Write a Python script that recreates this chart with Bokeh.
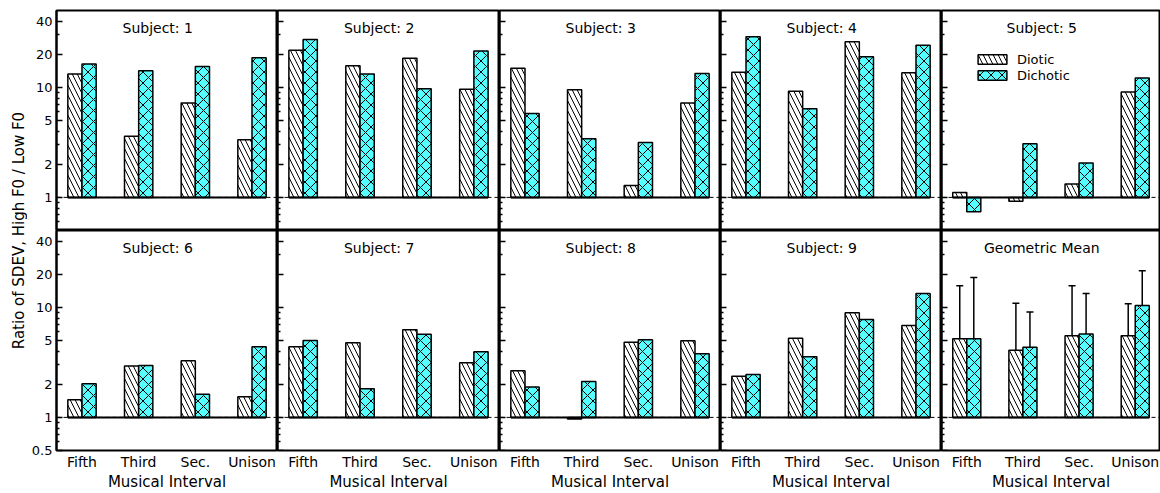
import numpy as np
from bokeh.plotting import figure
from bokeh.layouts import row, column
from bokeh.models import (Range1d, FixedTicker, Span, Label, ColumnDataSource,
                          Whisker, TeeHead, Legend, LegendItem)
from bokeh.embed import file_html
from bokeh.resources import INLINE

# ---------------- data ----------------
categories = ["Fifth", "Third", "Sec.", "Unison"]
panel_titles = ["Subject: 1", "Subject: 2", "Subject: 3", "Subject: 4", "Subject: 5",
                "Subject: 6", "Subject: 7", "Subject: 8", "Subject: 9", "Geometric Mean"]

s1_diotic = [13.2, 3.6, 7.2, 3.35]
s1_dichotic = [16.3, 14.2, 15.5, 18.6]
s2_diotic = [21.8, 15.7, 18.4, 9.6]
s2_dichotic = [27.3, 13.2, 9.7, 21.4]
s3_diotic = [14.9, 9.5, 1.28, 7.2]
s3_dichotic = [5.8, 3.42, 3.16, 13.4]
s4_diotic = [13.7, 9.2, 26.0, 13.6]
s4_dichotic = [28.9, 6.4, 19.0, 24.1]
s5_diotic = [1.11, 0.92, 1.32, 9.1]
s5_dichotic = [0.74, 3.08, 2.05, 12.2]
s6_diotic = [1.45, 2.93, 3.27, 1.54]
s6_dichotic = [2.02, 2.97, 1.62, 4.39]
s7_diotic = [4.39, 4.77, 6.27, 3.14]
s7_dichotic = [5.01, 1.82, 5.69, 3.95]
s8_diotic = [2.66, 0.965, 4.81, 4.98]
s8_dichotic = [1.89, 2.12, 5.08, 3.79]
s9_diotic = [2.36, 5.23, 8.95, 6.86]
s9_dichotic = [2.46, 3.56, 7.78, 13.4]
mean_diotic = [5.19, 4.07, 5.53, 5.53]
mean_dichotic = [5.19, 4.33, 5.72, 10.4]
mean_diotic_upper = [15.7, 10.9, 15.7, 10.8]
mean_dichotic_upper = [18.7, 9.07, 13.4, 21.5]

y_major_top = [1, 2, 5, 10, 20, 40]
y_major_bottom = [0.5, 1, 2, 5, 10, 20, 40]
y_minor = [0.6, 0.7, 0.8, 0.9, 3, 4, 6, 7, 8, 9, 30]

panels_diotic = [s1_diotic, s2_diotic, s3_diotic, s4_diotic, s5_diotic,
                 s6_diotic, s7_diotic, s8_diotic, s9_diotic, mean_diotic]
panels_dichotic = [s1_dichotic, s2_dichotic, s3_dichotic, s4_dichotic, s5_dichotic,
                   s6_dichotic, s7_dichotic, s8_dichotic, s9_dichotic, mean_dichotic]

# ---------------- style ----------------
FONT = "DejaVu Sans"
CYAN = "#55ffff"
BAR_W = 0.25
X_LO, X_HI = 0.55, 4.45
Y_LO, Y_HI = 0.5, 50
col_frame_w = [221, 222, 221, 221, 219]
LABEL_W = 27
LEFT_B = 29
TOP_B = 10
BOTTOM_B = 43
FRAME_H = 220

x_idx = np.arange(1, len(categories) + 1)


def make_panel(i):
    r, c = divmod(i, 5)
    left_col = c == 0
    bottom_row = r == 1
    w = col_frame_w[c] + (LEFT_B if left_col else 0)
    h = FRAME_H + (BOTTOM_B if bottom_row else TOP_B)
    p = figure(width=w, height=h, y_axis_type="log",
               x_range=Range1d(X_LO, X_HI), y_range=Range1d(Y_LO, Y_HI),
               output_backend="svg", toolbar_location=None, min_border=0)
    p.min_border_left = LEFT_B if left_col else 0
    p.min_border_bottom = BOTTOM_B if bottom_row else 0
    p.min_border_top = 0 if bottom_row else TOP_B
    p.min_border_right = 0
    p.grid.visible = False
    p.outline_line_color = "black"
    p.outline_line_width = 2
    p.background_fill_color = "white"
    p.border_fill_color = "white"

    # y axis
    ya = p.yaxis[0]
    ya.ticker = FixedTicker(ticks=y_major_bottom if bottom_row else y_major_top,
                            minor_ticks=y_minor)
    ya.major_tick_in = 6
    ya.major_tick_out = 0
    ya.minor_tick_in = 3
    ya.minor_tick_out = 0
    ya.major_tick_line_width = 1.5
    ya.minor_tick_line_width = 1.5
    ya.axis_line_width = 2
    ya.axis_line_color = "black"
    ya.major_label_text_font = FONT
    ya.major_label_text_font_size = "13px"
    ya.major_label_text_color = "black"
    ya.major_label_standoff = 4
    if not left_col:
        ya.fixed_location = X_LO
        ya.major_label_text_alpha = 0

    # x axis
    xa = p.xaxis[0]
    if bottom_row:
        xa.ticker = FixedTicker(ticks=list(x_idx))
        xa.major_label_overrides = {int(k): lab for k, lab in zip(x_idx, categories)}
        xa.major_tick_in = 0
        xa.major_tick_out = 0
        xa.minor_tick_in = 0
        xa.minor_tick_out = 0
        xa.axis_line_color = None
        xa.major_label_text_font = FONT
        xa.major_label_text_font_size = "14px"
        xa.major_label_text_color = "black"
        xa.major_label_standoff = 3
        xa.axis_label = "Musical Interval"
        xa.axis_label_text_font = FONT
        xa.axis_label_text_font_size = "15px"
        xa.axis_label_text_font_style = "normal"
        xa.axis_label_text_color = "black"
        xa.axis_label_standoff = 0
    else:
        xa.visible = False

    # dashed reference line at 1
    p.add_layout(Span(location=1, dimension="width", line_color="black",
                      line_width=1, line_dash="4 3"))

    d_src = ColumnDataSource(dict(x=x_idx - BAR_W / 2, top=panels_diotic[i]))
    x_src = ColumnDataSource(dict(x=x_idx + BAR_W / 2, top=panels_dichotic[i]))
    rd = p.vbar(x="x", top="top", bottom=1, width=BAR_W, source=d_src,
                fill_color="white", line_color="black", line_width=1.5,
                hatch_pattern="left_diagonal_line", hatch_color="black",
                hatch_scale=10, hatch_weight=1)
    rx = p.vbar(x="x", top="top", bottom=1, width=BAR_W, source=x_src,
                fill_color=CYAN, line_color="black", line_width=1.5,
                hatch_pattern="diagonal_cross", hatch_color="black",
                hatch_scale=11, hatch_weight=1)

    # solid baseline under the bars
    p.segment(x0=[x_idx[0] - BAR_W], x1=[x_idx[-1] + BAR_W], y0=[1], y1=[1],
              line_color="black", line_width=2)

    if i == 9:
        for src, up in ((d_src, mean_diotic_upper), (x_src, mean_dichotic_upper)):
            e_src = ColumnDataSource(dict(x=src.data["x"], lower=src.data["top"], upper=up))
            p.add_layout(Whisker(source=e_src, base="x", lower="lower", upper="upper",
                                 dimension="height", line_color="black", line_width=1.5,
                                 lower_head=None,
                                 upper_head=TeeHead(size=7, line_color="black", line_width=1.5)))

    p.add_layout(Label(x=X_LO + 0.458 * (X_HI - X_LO), y=35, text=panel_titles[i],
                       text_font=FONT, text_font_size="14px", text_color="black",
                       text_align="center", text_baseline="middle"))

    if i == 4:
        leg = Legend(items=[LegendItem(label="Diotic", renderers=[rd]),
                            LegendItem(label="Dichotic", renderers=[rx])],
                     location=(33, 147))
        leg.border_line_color = None
        leg.background_fill_alpha = 0
        leg.padding = 0
        leg.margin = 0
        leg.spacing = 0
        leg.glyph_width = 36
        leg.glyph_height = 12
        leg.label_height = 16
        leg.label_standoff = 7
        leg.label_text_font = FONT
        leg.label_text_font_size = "13px"
        leg.label_text_color = "black"
        leg.label_text_baseline = "middle"
        p.add_layout(leg)
    return p


panels = [make_panel(i) for i in range(10)]

total_h = 2 * FRAME_H + TOP_B + BOTTOM_B
lab = figure(width=LABEL_W, height=total_h, x_range=Range1d(0, 1), y_range=Range1d(0, 1),
             output_backend="svg", toolbar_location=None, min_border=0)
lab.axis.visible = False
lab.grid.visible = False
lab.outline_line_color = None
lab.add_layout(Label(x=18 / LABEL_W, y=(total_h - (TOP_B + FRAME_H)) / total_h,
                     text="Ratio of SDEV, High F0 / Low F0", angle=np.pi / 2,
                     text_font=FONT, text_font_size="15px", text_color="black",
                     text_align="center", text_baseline="middle"))

layout = row(lab, column(row(*panels[:5]), row(*panels[5:])))

open("out.html", "w").write(file_html(layout, INLINE))
